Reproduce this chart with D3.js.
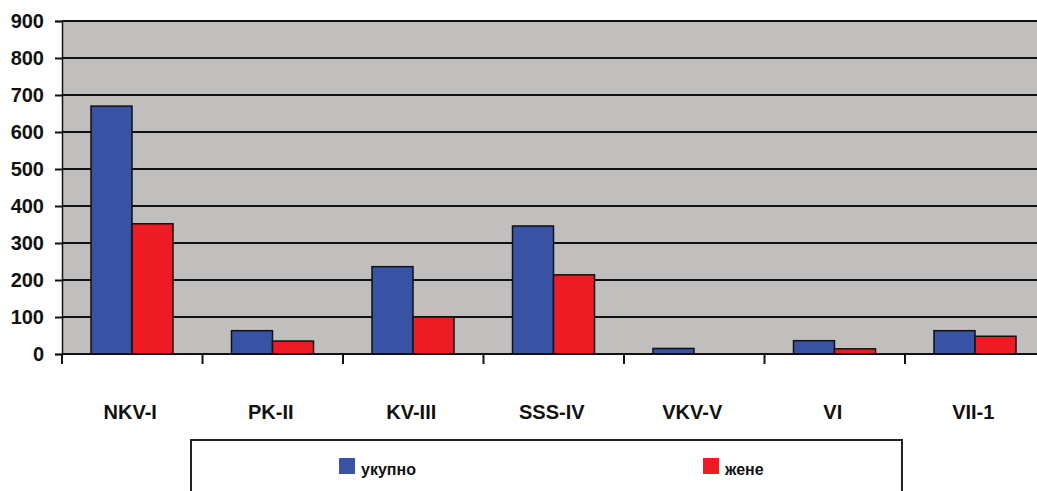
<!DOCTYPE html>
<html><head><meta charset="utf-8">
<script src="https://cdn.jsdelivr.net/npm/d3@7"></script>
<style>body{margin:0;background:#fff;}svg{display:block;font-family:"Liberation Sans",Arial,sans-serif;}</style>
</head><body>
<svg id="c" width="1037" height="491"></svg>
<script>
const categories = ["NKV-I","PK-II","KV-III","SSS-IV","VKV-V","VI","VII-1"];
const seriesNames = ["укупно","жене"];
const ukupno = [670,63,236,346,15,36,63];
const zene = [352,35,100,214,0,14,48];
const yTicks = [0,100,200,300,400,500,600,700,800,900];
const colors = ["#3953a4","#ed1c24"];

const svg = d3.select("#c");
const L = 62, T = 21, B = 354, bandW = 140.5;
const x = d3.scaleBand().domain(categories).range([L, L + bandW*categories.length]).paddingInner(0).paddingOuter(0);
const y = d3.scaleLinear().domain([0,900]).range([B,T]);
const inner = d3.scaleBand().domain(seriesNames).range([29, 29+82]);

svg.append("rect").attr("x",L).attr("y",T).attr("width",1037-L).attr("height",B-T).attr("fill","#c1bebe");

// gridlines
svg.append("g").selectAll("line").data(yTicks.filter(d=>d>0)).join("line")
  .attr("x1",L).attr("x2",1037).attr("y1",d=>y(d)).attr("y2",d=>y(d))
  .attr("stroke","#111").attr("stroke-width",2);

// bars
const data = [ukupno, zene];
const g = svg.append("g");
seriesNames.forEach((s,si)=>{
  g.selectAll(".b"+si).data(categories).join("rect")
   .attr("x",c=>x(c)+inner(s)).attr("width",inner.bandwidth())
   .attr("y",(c,i)=>y(data[si][i])).attr("height",(c,i)=>B-y(data[si][i]))
   .attr("fill",colors[si]).attr("stroke","#111").attr("stroke-width",1.5)
   .attr("display",(c,i)=>data[si][i]>0?null:"none");
});

// y axis
const ya = svg.append("g").attr("transform",`translate(${L},0)`)
  .call(d3.axisLeft(y).tickValues(yTicks).tickSize(7).tickPadding(11));
ya.select(".domain").attr("stroke","#111").attr("stroke-width",1.5);
ya.selectAll(".tick line").attr("stroke","#111").attr("stroke-width",2);
ya.selectAll("text").attr("font-size",20).attr("font-weight","bold").attr("fill","#111")
  .attr("font-family","Liberation Sans, Arial, sans-serif");

// x axis
svg.append("line").attr("x1",L).attr("x2",1037).attr("y1",B).attr("y2",B).attr("stroke","#111").attr("stroke-width",2);
const xt = d3.range(categories.length+1).map(i=>L+i*bandW);
svg.append("g").selectAll("line").data(xt).join("line")
  .attr("x1",d=>d).attr("x2",d=>d).attr("y1",B).attr("y2",B+10).attr("stroke","#111").attr("stroke-width",2);
svg.append("g").selectAll("text").data(categories).join("text")
  .attr("x",c=>x(c)+x.bandwidth()/2 - 2).attr("y",419).attr("text-anchor","middle")
  .attr("font-size",20).attr("font-weight","bold").attr("fill","#111").text(c=>c);

// legend
svg.append("rect").attr("x",191).attr("y",440).attr("width",711).attr("height",60)
  .attr("fill","#fff").attr("stroke","#222").attr("stroke-width",2);
const lx = [339, 703];
seriesNames.forEach((s,i)=>{
  svg.append("rect").attr("x",lx[i]).attr("y",458).attr("width",16).attr("height",16).attr("fill",colors[i]);
  svg.append("text").attr("x",lx[i]+22).attr("y",475).attr("font-size",16).attr("font-weight","bold").attr("fill","#111").text(s);
});
</script>
</body></html>
